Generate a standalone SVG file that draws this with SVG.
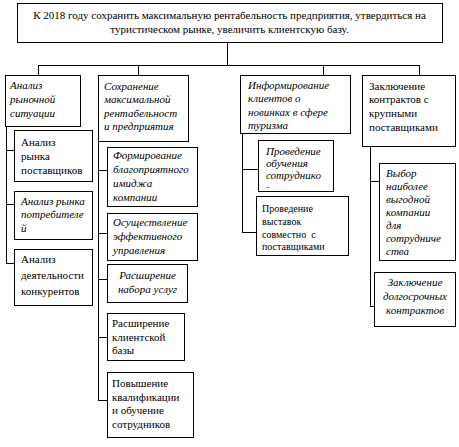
<svg xmlns="http://www.w3.org/2000/svg" width="459" height="447" viewBox="0 0 459 447">
<style>
  .box { fill: #fff; stroke: #000; stroke-width: 1; }
  .t { font-family: "Liberation Serif", "Times New Roman", serif; font-size: 11px; fill: #000; }
  .i { font-style: italic; }
  .c { text-anchor: middle; }
  .s { font-size: 10px; }
  .ln { stroke: #000; stroke-width: 1; fill: none; }
</style>
<rect width="459" height="447" fill="#fff"/>
<g id="connectors">
  <path class="ln" d="M227.5 42 V65.5 M38.5 65.5 H419.5 M38.5 65 V75 M138.5 65 V75 M323.5 65 V75 M419.5 65 V75"/>
  <path class="ln" d="M6.5 126 V263.5 M6 150.5 H14 M6 204.5 H14 M6 263.5 H14"/>
  <path class="ln" d="M98.5 141 V400.5 M98 170.5 H107 M98 233.5 H107 M98 279.5 H107 M98 337.5 H107 M98 400.5 H107"/>
  <path class="ln" d="M242.5 133 V232.5 M242 169.5 H258 M242 232.5 H256"/>
  <path class="ln" d="M370.5 146 V306.5 M370 181.5 H379 M370 306.5 H374"/>
</g>
<g id="goal">
  <rect class="box" x="17.5" y="3.5" width="425" height="39"/>
  <text class="t c" x="229.5" y="19">К 2018 году сохранить максимальную рентабельность предприятия, утвердиться на</text>
  <text class="t c" x="229.5" y="33">туристическом рынке, увеличить клиентскую базу.</text>
</g>
<g id="n-market">
  <rect class="box" x="5.5" y="75.5" width="75" height="51"/>
  <text class="t i" x="10" y="89">Анализ</text>
  <text class="t i" x="10" y="103">рыночной</text>
  <text class="t i" x="10" y="117">ситуации</text>
</g>
<g id="n-suppliers">
  <rect class="box" x="14.5" y="130.5" width="78" height="51"/>
  <text class="t" x="21" y="146">Анализ</text>
  <text class="t" x="21" y="160">рынка</text>
  <text class="t" x="21" y="174">поставщиков</text>
</g>
<g id="n-consumers">
  <rect class="box" x="14.5" y="191.5" width="78" height="48"/>
  <text class="t i" x="21" y="205">Анализ рынка</text>
  <text class="t i" x="21" y="218">потребителе</text>
  <text class="t i" x="21" y="232">й</text>
</g>
<g id="n-competitors">
  <rect class="box" x="14.5" y="249.5" width="78" height="56"/>
  <text class="t" x="21" y="263">Анализ</text>
  <text class="t" x="21" y="279">деятельности</text>
  <text class="t" x="21" y="295">конкурентов</text>
</g>
<g id="n-profit">
  <rect class="box" x="98.5" y="75.5" width="90" height="66"/>
  <text class="t i" x="104" y="90">Сохранение</text>
  <text class="t i" x="104" y="103">максимальной</text>
  <text class="t i" x="104" y="117">рентабельност</text>
  <text class="t i" x="104" y="130">и предприятия</text>
</g>
<g id="n-image">
  <rect class="box" x="107.5" y="147.5" width="90" height="59"/>
  <text class="t i" x="113" y="159">Формирование</text>
  <text class="t i" x="113" y="173">благоприятного</text>
  <text class="t i" x="113" y="187">имиджа</text>
  <text class="t i" x="113" y="201">компании</text>
</g>
<g id="n-management">
  <rect class="box" x="107.5" y="213.5" width="90" height="47"/>
  <text class="t i" x="113" y="226">Осуществление</text>
  <text class="t i" x="113" y="240">эффективного</text>
  <text class="t i" x="113" y="254">управления</text>
</g>
<g id="n-services">
  <rect class="box" x="107.5" y="264.5" width="80" height="38"/>
  <text class="t i c" x="147.5" y="279">Расширение</text>
  <text class="t i c" x="147.5" y="293">набора услуг</text>
</g>
<g id="n-clients">
  <rect class="box" x="107.5" y="313.5" width="77" height="47"/>
  <text class="t" x="112" y="327">Расширение</text>
  <text class="t" x="112" y="341">клиентской</text>
  <text class="t" x="112" y="354">базы</text>
</g>
<g id="n-training">
  <rect class="box" x="107.5" y="372.5" width="86" height="65"/>
  <text class="t" x="112" y="387">Повышение</text>
  <text class="t" x="112" y="401">квалификации</text>
  <text class="t" x="112" y="414">и обучение</text>
  <text class="t" x="112" y="428">сотрудников</text>
</g>
<g id="n-inform">
  <rect class="box" x="240.5" y="75.5" width="110" height="58"/>
  <text class="t i" x="248" y="89">Информирование</text>
  <text class="t i" x="248" y="102">клиентов о</text>
  <text class="t i" x="248" y="116">новинках в сфере</text>
  <text class="t i" x="248" y="129">туризма</text>
</g>
<g id="n-staff-training">
  <rect class="box" x="258.5" y="140.5" width="75" height="51"/>
  <text class="t i" x="266" y="155">Проведение</text>
  <text class="t i" x="266" y="167">обучения</text>
  <text class="t i" x="266" y="179">сотруднико</text>
  <text class="t i" x="266" y="190" style="font-size:9px">-</text>
</g>
<g id="n-exhibitions">
  <rect class="box" x="256.5" y="196.5" width="92" height="59"/>
  <text class="t s" x="262" y="212">Проведение</text>
  <text class="t s" x="262" y="225">выставок</text>
  <text class="t s" x="262" y="238" xml:space="preserve">совместно  с</text>
  <text class="t s" x="262" y="250">поставщиками</text>
</g>
<g id="n-contracts">
  <rect class="box" x="362.5" y="75.5" width="93" height="71"/>
  <text class="t" x="369" y="90">Заключение</text>
  <text class="t" x="369" y="103">контрактов с</text>
  <text class="t" x="369" y="117">крупными</text>
  <text class="t" x="369" y="131">поставщиками</text>
</g>
<g id="n-choice">
  <rect class="box" x="379.5" y="163.5" width="76" height="97"/>
  <text class="t i" x="386" y="177">Выбор</text>
  <text class="t i" x="386" y="190">наиболее</text>
  <text class="t i" x="386" y="203">выгодной</text>
  <text class="t i" x="386" y="216">компании</text>
  <text class="t i" x="386" y="229">для</text>
  <text class="t i" x="386" y="242">сотрудниче</text>
  <text class="t i" x="386" y="255">ства</text>
</g>
<g id="n-longterm">
  <rect class="box" x="374.5" y="272.5" width="81" height="54"/>
  <text class="t i c" x="415" y="286">Заключение</text>
  <text class="t i c" x="415" y="300">долгосрочных</text>
  <text class="t i c" x="415" y="314">контрактов</text>
</g>
</svg>
